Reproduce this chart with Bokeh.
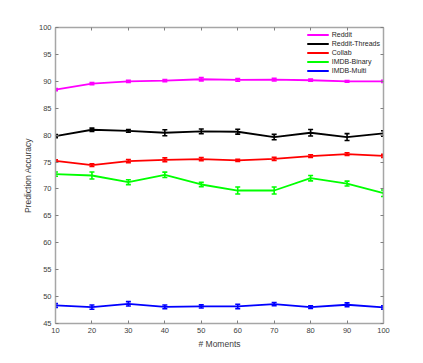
from bokeh.plotting import figure
from bokeh.models import (ColumnDataSource, Whisker, TeeHead, Legend, LegendItem,
                          LinearAxis, FixedTicker, Range1d)
from bokeh.embed import file_html
from bokeh.resources import INLINE

moments = [10, 20, 30, 40, 50, 60, 70, 80, 90, 100]

reddit = [88.45, 89.57, 90.0, 90.13, 90.38, 90.25, 90.32, 90.2, 90.0, 90.0]
reddit_err = [0.2, 0.2, 0.2, 0.2, 0.3, 0.25, 0.25, 0.2, 0.15, 0.2]

threads = [79.83, 81.0, 80.8, 80.44, 80.7, 80.63, 79.64, 80.44, 79.64, 80.32]
threads_err = [0.3, 0.3, 0.25, 0.55, 0.45, 0.45, 0.5, 0.6, 0.65, 0.5]

collab = [75.23, 74.43, 75.17, 75.42, 75.54, 75.3, 75.6, 76.1, 76.47, 76.16]
collab_err = [0.2, 0.25, 0.3, 0.35, 0.3, 0.2, 0.3, 0.25, 0.25, 0.3]

imdb_b = [72.75, 72.5, 71.26, 72.63, 70.83, 69.71, 69.71, 72.0, 71.0, 69.21]
imdb_b_err = [0.4, 0.65, 0.45, 0.5, 0.4, 0.65, 0.65, 0.5, 0.45, 0.6]

imdb_m = [48.35, 48.04, 48.66, 48.1, 48.17, 48.17, 48.6, 48.04, 48.48, 47.98]
imdb_m_err = [0.35, 0.4, 0.4, 0.35, 0.3, 0.4, 0.3, 0.25, 0.35, 0.3]

series = [
    ("Reddit", reddit, reddit_err, "#ff00ff"),
    ("Reddit-Threads", threads, threads_err, "#000000"),
    ("Collab", collab, collab_err, "#ff0000"),
    ("IMDB-Binary", imdb_b, imdb_b_err, "#00ff00"),
    ("IMDB-Multi", imdb_m, imdb_m_err, "#0000ff"),
]

FONT = "Liberation Sans"

p = figure(width=415, height=355, output_backend="svg", toolbar_location=None,
           x_range=Range1d(10, 100), y_range=Range1d(45, 100),
           min_border_left=55, min_border_right=32, min_border_top=27,
           min_border_bottom=32)
p.grid.visible = False
p.outline_line_color = None
p.background_fill_color = "white"
p.border_fill_color = "white"

def style_axis(ax, labels=True):
    ax.axis_line_color = "#a6a6a6"
    ax.axis_line_width = 1.5
    ax.major_tick_line_color = "#808080"
    ax.major_tick_in = 3
    ax.major_tick_out = 0
    ax.minor_tick_line_color = None
    ax.major_label_text_font = FONT
    ax.major_label_text_font_size = "7.5px"
    ax.major_label_text_color = "#404040"
    if not labels:
        ax.major_label_text_color = None
        ax.major_label_standoff = 0

xt = FixedTicker(ticks=moments)
yt = FixedTicker(ticks=list(range(45, 101, 5)))
p.xaxis.ticker = xt
p.yaxis.ticker = yt
for ax in p.xaxis + p.yaxis:
    style_axis(ax)
p.xaxis.major_label_standoff = 4
p.yaxis.major_label_standoff = 4
p.xaxis.axis_label = "# Moments"
p.yaxis.axis_label = "Prediction Accuracy"
for ax in p.xaxis + p.yaxis:
    ax.axis_label_text_font = FONT
    ax.axis_label_text_font_size = "8.5px"
    ax.axis_label_text_font_style = "normal"
    ax.axis_label_text_color = "#404040"
    ax.axis_label_standoff = 3

top = LinearAxis(ticker=xt)
style_axis(top, labels=False)
p.add_layout(top, "above")
right = LinearAxis(ticker=yt)
style_axis(right, labels=False)
p.add_layout(right, "right")

items = []
for name, vals, errs, color in series:
    src = ColumnDataSource(dict(
        x=moments, y=vals,
        lo=[v - e for v, e in zip(vals, errs)],
        hi=[v + e for v, e in zip(vals, errs)]))
    ln = p.line("x", "y", source=src, line_color=color, line_width=1.8)
    w = Whisker(base="x", lower="lo", upper="hi", source=src,
                line_color=color, line_width=1.6,
                upper_head=TeeHead(size=5, line_color=color, line_width=1.6),
                lower_head=TeeHead(size=5, line_color=color, line_width=1.6))
    p.add_layout(w)
    mk = p.scatter(x=[], y=[], marker="cross", line_color=color, line_width=1.5)
    items.append(LegendItem(label=name, renderers=[ln, mk]))

legend = Legend(items=items, location="top_right",
                label_text_font=FONT, label_text_font_size="7px",
                label_text_color="#262626",
                glyph_width=22, glyph_height=9, label_height=9,
                spacing=0, padding=2, margin=1, label_standoff=3,
                border_line_alpha=0, background_fill_alpha=0)
p.add_layout(legend)

open("out.html", "w").write(file_html(p, INLINE))
